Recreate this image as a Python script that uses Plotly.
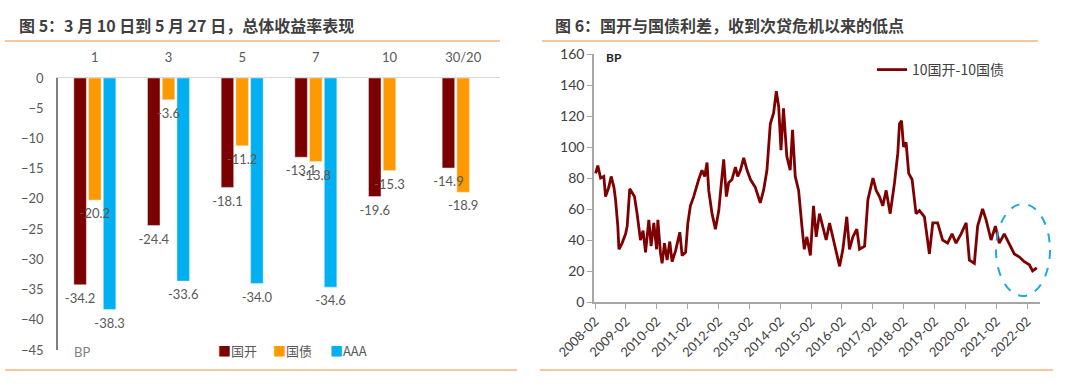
import plotly.graph_objects as go

# ---------------- data ----------------
tenors = ["1", "3", "5", "7", "10", "30/20"]
cdb_chg = [-34.2, -24.4, -18.1, -13.1, -19.6, -14.9]      # 国开
gov_chg = [-20.2, -3.6, -11.2, -13.8, -15.3, -18.9]       # 国债
aaa_chg = [-38.3, -33.6, -34.0, -34.6, None, None]        # AAA

spread_dates = [
    "2008-02-08", "2008-03-05", "2008-04-07", "2008-05-15", "2008-06-05", "2008-07-13",
    "2008-08-10", "2008-09-12", "2008-10-01", "2008-10-28", "2008-11-10", "2008-12-18",
    "2009-01-28", "2009-02-16", "2009-03-18", "2009-04-15", "2009-05-13", "2009-06-13",
    "2009-07-23", "2009-08-23", "2009-09-21", "2009-10-30", "2009-11-26", "2009-12-28",
    "2010-01-30", "2010-02-14", "2010-03-16", "2010-04-05", "2010-05-03", "2010-06-03",
    "2010-07-05", "2010-08-01", "2010-09-11", "2010-11-01", "2010-11-28", "2011-01-08",
    "2011-02-04", "2011-03-06", "2011-04-14", "2011-06-12", "2011-07-21", "2011-08-22",
    "2011-09-19", "2011-10-09", "2011-11-17", "2011-12-27", "2012-02-05", "2012-03-14",
    "2012-04-03", "2012-05-05", "2012-06-01", "2012-07-10", "2012-08-20", "2012-09-16",
    "2012-10-18", "2012-11-26", "2013-01-05", "2013-02-14", "2013-04-12", "2013-06-10",
    "2013-07-19", "2013-08-28", "2013-10-07", "2013-11-15", "2013-12-17", "2014-01-14",
    "2014-02-10", "2014-03-12", "2014-04-20", "2014-05-30", "2014-06-27", "2014-07-29",
    "2014-09-07", "2014-10-16", "2014-11-13", "2014-12-14", "2015-01-24", "2015-03-02",
    "2015-04-03", "2015-05-12", "2015-06-21", "2015-07-30", "2015-09-08", "2015-11-06",
    "2016-01-05", "2016-02-13", "2016-03-30", "2016-05-01", "2016-06-10", "2016-07-27",
    "2016-08-28", "2016-10-27", "2016-12-05", "2017-02-03", "2017-03-13", "2017-04-21",
    "2017-05-30", "2017-07-09", "2017-08-26", "2017-10-16", "2017-11-24", "2017-12-14",
    "2018-01-07", "2018-01-31", "2018-03-02", "2018-04-02", "2018-05-12", "2018-06-28",
    "2018-08-07", "2018-10-05", "2018-12-03", "2019-01-12", "2019-03-10", "2019-05-08",
    "2019-07-06", "2019-08-28", "2019-10-14", "2019-12-13", "2020-02-11", "2020-03-20",
    "2020-05-18", "2020-06-26", "2020-08-24", "2020-10-04", "2020-12-02", "2021-01-22",
    "2021-03-09", "2021-05-07", "2021-07-05", "2021-09-03", "2021-11-02", "2021-12-31",
    "2022-02-28", "2022-04-07", "2022-05-27",
]
spread_values = [
    83, 88, 80, 81, 68, 74,
    81, 74, 66, 49, 34, 38,
    44, 49, 73, 70, 68, 57,
    40, 46, 32, 53, 36, 51,
    34, 53, 32, 25, 38, 27,
    39, 26, 33, 45, 30, 32,
    51, 62, 68, 79, 85, 81,
    90, 72, 57, 47, 59, 81,
    92, 68, 77, 79, 87, 81,
    85, 93, 85, 79, 74, 64,
    72, 85, 115, 122, 136, 126,
    98, 125, 94, 85, 111, 81,
    72, 49, 34, 42, 30, 62,
    42, 57, 49, 40, 51, 38,
    23, 34, 55, 34, 42, 47,
    34, 36, 66, 80, 72, 68,
    62, 72, 57, 77, 96, 115,
    117, 100, 103, 83, 79, 57,
    59, 55, 31, 51, 51, 40,
    38, 44, 38, 44, 51, 27,
    25, 49, 60, 53, 40, 49,
    38, 44, 38, 31, 29, 26,
    24, 20, 22,
]

year_ticks = ["2008-02-01", "2009-02-01", "2010-02-01", "2011-02-01", "2012-02-01",
              "2013-02-01", "2014-02-01", "2015-02-01", "2016-02-01", "2017-02-01",
              "2018-02-01", "2019-02-01", "2020-02-01", "2021-02-01", "2022-02-01"]
year_labels = [d[:7] for d in year_ticks]

bar_series = [("国开", cdb_chg, "#7B0000"), ("国债", gov_chg, "#FF9900"), ("AAA", aaa_chg, "#00B0F0")]

# ---------------- figure ----------------
W, H = 1080, 390
def px(x):
    return x / W
def py(y):
    return 1 - y / H

FONT = "Lato, 'Noto Sans CJK SC', sans-serif"
CJK = "'Noto Sans CJK SC', sans-serif"
GRAY = "#595959"
DARK = "#404040"

fig = go.Figure()

for i, (name, vals, color) in enumerate(bar_series):
    fig.add_trace(go.Bar(name=name, x=tenors, y=vals, marker_color=color,
                         offsetgroup=f"g{i}", xaxis="x", yaxis="y", showlegend=False))
# value labels drawn on top of all bars (invisible marker pushes text a bit lower)
for i, (name, vals, color) in enumerate(bar_series):
    fig.add_trace(go.Scatter(x=tenors, y=vals, mode="markers+text", texttemplate="%{y:.1f}",
                             textposition="bottom center", offsetgroup=f"g{i}",
                             marker=dict(size=12, color="rgba(0,0,0,0)"),
                             textfont=dict(color=GRAY, size=13, family=FONT),
                             cliponaxis=False, xaxis="x", yaxis="y", showlegend=False,
                             hoverinfo="skip"))

fig.add_trace(go.Scatter(name="10国开-10国债", x=spread_dates, y=spread_values,
                         mode="lines", line=dict(color="#7F0000", width=2.8),
                         xaxis="x2", yaxis="y2", legend="legend2"))

fig.update_layout(
    width=W, height=H,
    margin=dict(l=0, r=0, t=0, b=0),
    paper_bgcolor="white", plot_bgcolor="white",
    font=dict(family=FONT, color=GRAY),
    barmode="group", bargap=0.4, bargroupgap=0.15,
    scattermode="group", scattergap=0.4,
    xaxis=dict(domain=[px(58), px(500)], anchor="y", side="top", type="category",
               showline=True, linecolor="#D9D9D9", linewidth=1, ticks="",
               showgrid=False, tickfont=dict(size=13, color=GRAY, family=FONT),
               ticklabelstandoff=10, automargin=False),
    yaxis=dict(domain=[py(350), py(78)], anchor="x", range=[-45, 0], dtick=5,
               showline=True, linecolor="#7F7F7F", linewidth=1.5, showgrid=False,
               zeroline=False, ticks="", tickfont=dict(size=13, color=GRAY, family=FONT),
               ticklabelstandoff=10, automargin=False),
    xaxis2=dict(domain=[px(594), px(1040)], anchor="y2", type="date",
                range=["2008-01-20", "2022-07-04"], tickvals=year_ticks,
                ticktext=year_labels, tickangle=-45, showline=True,
                linecolor="#A6A6A6", linewidth=1.5, ticks="outside", ticklen=5,
                tickcolor="#A6A6A6", showgrid=False, automargin=False,
                tickfont=dict(size=13, color=DARK, family=FONT)),
    yaxis2=dict(domain=[py(302), py(54)], anchor="x2", range=[0, 160], dtick=20,
                showline=True, linecolor="#A6A6A6", linewidth=1.5, ticks="outside",
                ticklen=5, tickcolor="#A6A6A6", showgrid=False, zeroline=False,
                automargin=False, tickfont=dict(size=14, color=DARK, family=FONT)),
    legend2=dict(x=px(872), y=py(70), xanchor="left", yanchor="middle",
                 orientation="h", font=dict(size=14, color=DARK, family=CJK),
                 itemwidth=30, bgcolor="rgba(0,0,0,0)"),
    showlegend=True,
)

# bar legend (colored squares + names)
legend_x = [216, 271, 328]
for (name, vals, color), lx in zip(bar_series, legend_x):
    fig.add_annotation(text=f"<span style='color:{color}'>■</span>{name}", xref="paper", yref="paper",
                       x=px(lx), y=py(350), xanchor="left", yanchor="middle", showarrow=False,
                       font=dict(size=13, color=GRAY, family=CJK))

# titles
fig.add_annotation(text="<b>图 5：3 月 10 日到 5 月 27 日，总体收益率表现</b>", xref="paper", yref="paper",
                   x=px(17), y=py(25), xanchor="left", yanchor="middle", showarrow=False,
                   font=dict(size=16, color="#3F3F3F", family=CJK))
fig.add_annotation(text="<b>图 6：国开与国债利差，收到次贷危机以来的低点</b>", xref="paper", yref="paper",
                   x=px(553), y=py(25), xanchor="left", yanchor="middle", showarrow=False,
                   font=dict(size=16, color="#3F3F3F", family=CJK))
# unit labels
fig.add_annotation(text="BP", xref="paper", yref="paper", x=px(72), y=py(352),
                   xanchor="left", yanchor="middle", showarrow=False,
                   font=dict(size=13, color="#7F7F7F", family=FONT))
fig.add_annotation(text="<b>BP</b>", xref="paper", yref="paper", x=px(604), y=py(57),
                   xanchor="left", yanchor="middle", showarrow=False,
                   font=dict(size=12, color="#262626", family=FONT))

# orange rules
RULE = "#F6B27E"
for x0, x1, y in [(5, 500, 41), (542, 1038, 41), (5, 517, 370), (540, 1053, 370)]:
    fig.add_shape(type="line", xref="paper", yref="paper", x0=px(x0), x1=px(x1),
                  y0=py(y), y1=py(y), line=dict(color=RULE, width=1.5))

# dashed ellipse highlighting the recent low
fig.add_shape(type="circle", xref="paper", yref="paper", x0=px(996), x1=px(1050),
              y0=py(296), y1=py(204), line=dict(color="#1FA8E0", width=2, dash="dash"))

fig.write_html("out.html", config={"displayModeBar": False},
               post_script="document.body.style.margin='0';document.body.style.overflow='hidden';")
